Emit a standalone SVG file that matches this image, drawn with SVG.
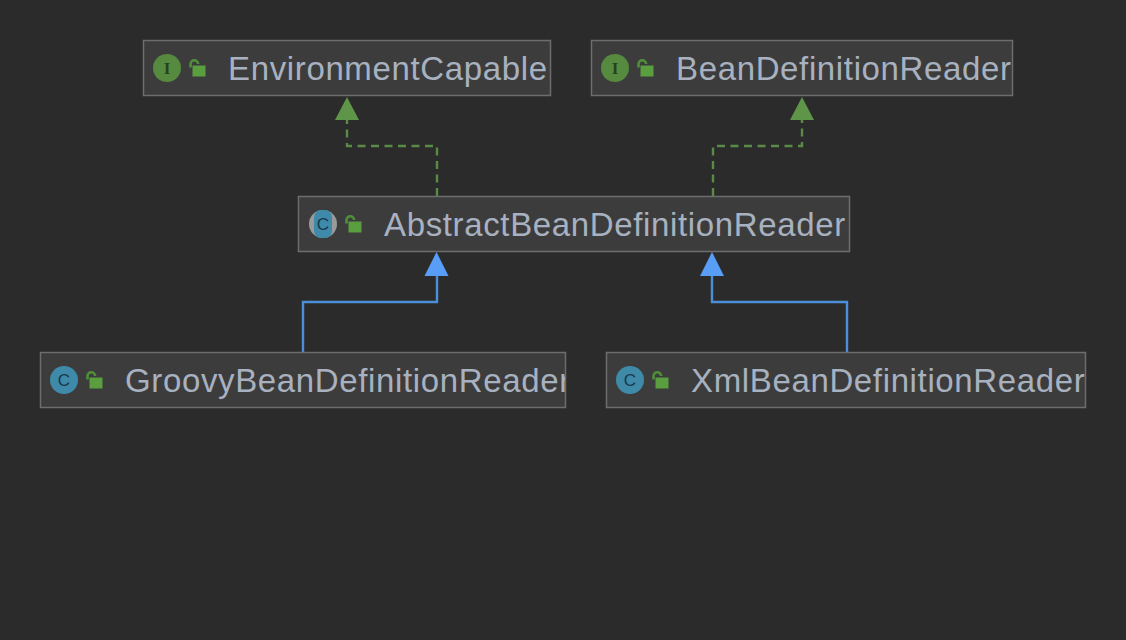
<svg xmlns="http://www.w3.org/2000/svg" width="1126" height="640" viewBox="0 0 1126 640">
<style>
.box{fill:#3c3c3d;stroke:#6d6d6d;stroke-width:1.5}
.name{font-family:"Liberation Sans",Arial,sans-serif;font-size:33px;fill:#a8b1bf;letter-spacing:.64px}
.ci{fill:#3f8aa8}.ii{fill:#568a3e}
.gl{font-family:"Liberation Sans",sans-serif;font-size:17px;text-anchor:middle}
.ig{font-family:"Liberation Serif",serif;font-weight:bold;font-size:17px;fill:#26421c}
.cg{fill:#16394d}
.lockb{fill:#5a9e3f}.locks{fill:none;stroke:#4f8f3a;stroke-width:2.6}
.dash{fill:none;stroke:#5a8a47;stroke-width:2.4;stroke-dasharray:8 5.500}
.solid{fill:none;stroke:#4d8ed8;stroke-width:2.4}
.ag{fill:#5f9548}.ab{fill:#589df6}
</style>
<defs>
<g id="lock"><rect x="-5.500" y="-3.500" width="13" height="11" class="lockb"/><path d="M-7.500 -1.500v-3.500a3.800 3.800 0 0 1 7.600 0" class="locks"/></g>
<clipPath id="c1"><rect x="144" y="41" width="404" height="54"/></clipPath>
<clipPath id="c2"><rect x="592" y="41" width="420" height="54"/></clipPath>
<clipPath id="c3"><rect x="299" y="197" width="550" height="54"/></clipPath>
<clipPath id="c4"><rect x="41" y="353" width="524" height="54"/></clipPath>
<clipPath id="c5"><rect x="607" y="353" width="478" height="54"/></clipPath>
</defs>
<rect width="1126" height="640" fill="#2b2b2b"/>
<g id="connectors">
<path class="dash" d="M437 196V146H347V118"/>
<path class="dash" d="M713 196V146H802V118"/>
<path class="solid" d="M303 352V302H437V274"/>
<path class="solid" d="M847 352V302H712V274"/>
<path class="ag" d="M347 97L359 120H335Z"/>
<path class="ag" d="M802 97L814 120H790Z"/>
<path class="ab" d="M436.500 252L448.500 276H424.500Z"/>
<path class="ab" d="M712 252L724 276H700Z"/>
</g>
<g id="EnvironmentCapable">
<rect class="box" x="143.500" y="40.500" width="407" height="55"/>
<circle class="ii" cx="167" cy="68" r="14"/><text class="gl ig" x="167" y="74">I</text>
<use href="#lock" x="198" y="69"/>
<text class="name" x="228" y="80" clip-path="url(#c1)">EnvironmentCapable</text>
</g>
<g id="BeanDefinitionReader">
<rect class="box" x="591.500" y="40.500" width="421" height="55"/>
<circle class="ii" cx="615" cy="68" r="14"/><text class="gl ig" x="615" y="74">I</text>
<use href="#lock" x="646" y="69"/>
<text class="name" x="676" y="80" clip-path="url(#c2)">BeanDefinitionReader</text>
</g>
<g id="AbstractBeanDefinitionReader">
<rect class="box" x="298.500" y="196.500" width="551" height="55"/>
<circle cx="323" cy="224" r="14" fill="#9a9a9a"/><rect x="314" y="210" width="18" height="28" rx="7" class="ci"/><text class="gl cg" x="323" y="230">C</text>
<use href="#lock" x="354" y="225"/>
<text class="name" x="384" y="236" clip-path="url(#c3)">AbstractBeanDefinitionReader</text>
</g>
<g id="GroovyBeanDefinitionReader">
<rect class="box" x="40.500" y="352.500" width="525" height="55"/>
<circle class="ci" cx="64" cy="380" r="14"/><text class="gl cg" x="64" y="386">C</text>
<use href="#lock" x="95" y="381"/>
<text class="name" x="125" y="392" clip-path="url(#c4)">GroovyBeanDefinitionReader</text>
</g>
<g id="XmlBeanDefinitionReader">
<rect class="box" x="606.500" y="352.500" width="479" height="55"/>
<circle class="ci" cx="630" cy="380" r="14"/><text class="gl cg" x="630" y="386">C</text>
<use href="#lock" x="661" y="381"/>
<text class="name" x="691" y="392" clip-path="url(#c5)">XmlBeanDefinitionReader</text>
</g>
</svg>
